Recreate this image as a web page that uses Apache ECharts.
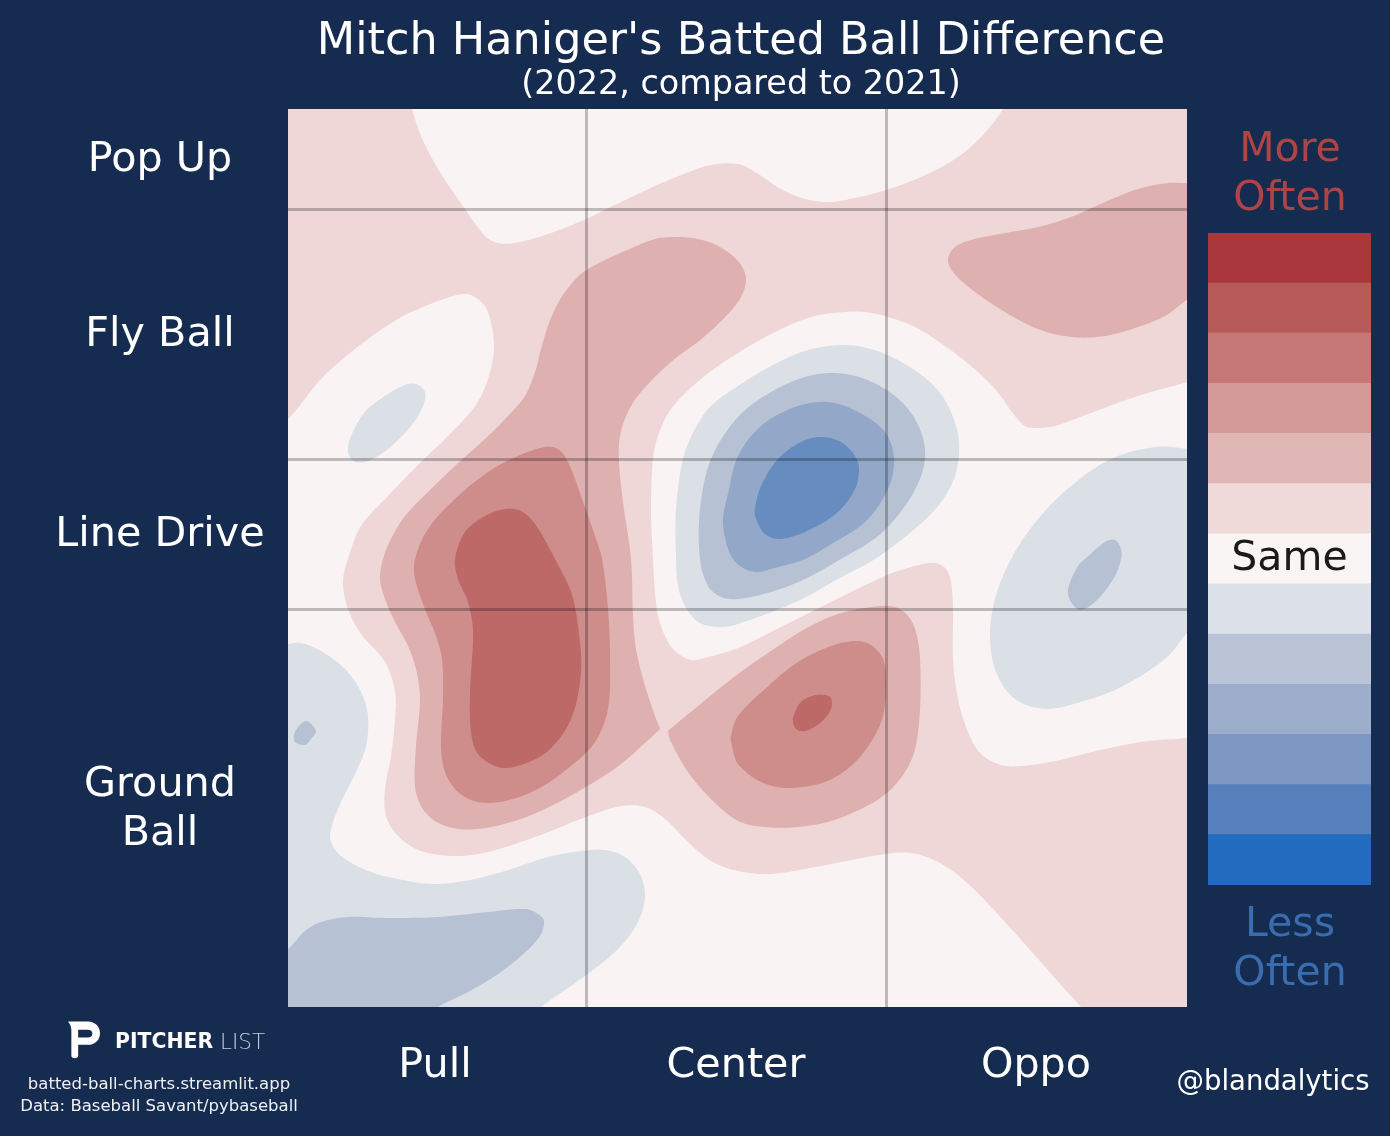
<!DOCTYPE html>
<html><head><meta charset="utf-8">
<style>html,body{margin:0;padding:0;background:#162b50}#c{width:1390px;height:1136px}</style>
<script src="https://cdn.jsdelivr.net/npm/echarts@6/dist/echarts.min.js"></script>
</head><body><div id="c"></div>
<script>
const xCategories=['Pull','Center','Oppo'];
const xCategoryCentres=[147,448,748];
const yCategories=['Pop Up','Fly Ball','Line Drive','Ground\nBall'];
const yCategoryCentres=[51,226,426,701];
const xDividers=[298,598];
const yDividers=[100,350,500];
const levelColors={same:'#f9f4f3',p1:'#eed7d6',p2:'#deb0b0',p3:'#ce8d8b',p4:'#bd6967',n1:'#dbdfe6',n2:'#b6c1d3',n3:'#93a7c8',n4:'#678cbf'};
const colorbarColors=['#a8363a','#b75b59','#c67876','#d39996','#e0b7b5','#efdad9','#f9f5f4','#dde1e9','#bac4d6','#9caecb','#7c97c1','#5580bb','#226bbf'];
const colorbarLabels=['','','','','','','Same','','','','','',''];

const sameTop=[[115,-30],[124,0],[133,27],[150,60],[177,100],[197,127],[210,134],[227,134],[260,125],[298,110],[333,93],[383,70],[423,56],[450,55],[467,63],[493,80],[517,90],[540,93],[567,89],[598,81],[633,68],[667,50],[693,28],[715,0],[730,-30],[420,-60]];
const sameCentre=[[930,265],[900,273],[850,287],[800,305],[767,317],[748,319],[737,317],[727,307],[707,280],[683,257],[657,237],[627,218],[600,208],[577,203],[557,203],[527,207],[493,220],[450,244],[413,270],[383,300],[370,327],[365,350],[363,400],[365,450],[367,483],[370,507],[377,527],[387,542],[403,551],[420,548],[450,539],[493,518],[543,493],[597,467],[627,457],[647,454],[658,460],[663,473],[665,500],[665,550],[670,590],[680,623],[693,645],[713,656],[733,657],[767,652],[817,640],[860,632],[900,629],[930,625]];
const sameLeft=[[-30,330],[0,310],[33,270],[67,240],[110,210],[150,192],[177,185],[190,190],[200,203],[206,237],[200,270],[187,297],[160,327],[133,353],[100,387],[73,417],[60,450],[55,473],[60,500],[73,525],[97,553],[107,583],[107,610],[103,647],[97,680],[98,707],[110,727],[133,742],[167,747],[200,743],[250,727],[298,708],[333,697],[357,698],[377,710],[400,733],[423,752],[450,762],[483,765],[533,757],[597,745],[623,744],[650,753],[677,772],[717,813],[793,898],[830,935],[400,960],[-30,930]];
const plus2Main=[[458,170],[450,152],[430,137],[410,130],[390,128],[367,130],[337,142],[313,153],[293,165],[277,183],[267,200],[260,217],[253,240],[247,263],[237,287],[220,307],[197,330],[167,357],[140,383],[117,407],[103,430],[95,450],[92,470],[97,490],[107,513],[120,537],[128,560],[132,590],[128,637],[127,677],[133,697],[147,712],[170,720],[197,719],[233,710],[267,695],[298,678],[333,655],[371,621],[372,620],[367,607],[357,577],[348,540],[345,507],[343,450],[335,393],[331,353],[332,327],[340,303],[353,283],[383,253],[417,227],[450,193]];
const plus2Lower=[[450,565],[483,542],[517,520],[550,505],[583,498],[607,498],[620,507],[628,523],[632,550],[632,600],[627,640],[617,663],[600,683],[577,698],[543,712],[510,718],[477,718],[450,712],[423,690],[400,663],[383,633],[380,622],[381,621],[410,597]];
const plus2Right=[[660,150],[667,138],[683,131],[717,124],[750,118],[783,108],[817,93],[850,80],[880,74],[900,74],[930,72],[930,170],[900,190],[877,207],[850,218],[817,227],[783,228],[750,220],[717,203],[683,180],[665,163]];
const plus3Main=[[127,450],[140,420],[167,390],[200,363],[230,347],[257,338],[270,340],[280,353],[293,387],[307,427],[314,450],[320,500],[322,550],[320,600],[307,633],[283,657],[250,680],[217,692],[190,693],[170,683],[157,663],[153,637],[155,590],[154,550],[148,527],[137,500],[127,470]];
const plus3Lower=[[450,607],[477,580],[510,553],[543,537],[567,532],[583,536],[595,550],[598,573],[595,607],[583,633],[563,657],[537,673],[500,679],[473,673],[450,655],[444,637],[443,627]];
const plus4Main=[[167,450],[177,423],[197,407],[217,400],[233,402],[247,415],[267,450],[283,483],[290,517],[293,563],[283,610],[260,642],[230,657],[210,658],[190,645],[183,623],[182,583],[185,523],[180,493],[170,470]];
const plus4Lower=[[505,610],[513,593],[528,586],[542,588],[543,600],[533,613],[518,622],[508,620]];
const minus1Centre=[[450,277],[483,257],[517,242],[553,236],[583,240],[617,255],[647,278],[663,303],[671,333],[667,367],[650,397],[623,423],[587,450],[550,470],[510,492],[450,515],[430,518],[410,513],[397,497],[390,477],[388,450],[388,400],[395,350],[407,320],[423,297]];
const minus2Centre=[[450,308],[483,283],[517,268],[547,264],[577,270],[607,287],[627,310],[637,340],[633,367],[617,397],[590,427],[553,450],[517,470],[483,483],[450,490],[433,488],[420,477],[412,450],[412,400],[423,350]];
const minus3Centre=[[450,347],[473,317],[507,298],[540,293],[570,303],[597,323],[606,350],[600,380],[577,413],[540,437],[517,450],[483,460],[470,463],[457,460],[445,450],[438,433],[435,410],[440,385]];
const minus4Centre=[[467,400],[473,377],[490,350],[513,333],[533,328],[553,333],[567,347],[571,360],[567,380],[550,403],[523,420],[493,430],[477,425],[468,410]];
const minus1UpperLeft=[[60,343],[63,327],[77,303],[97,287],[117,276],[128,275],[137,283],[135,297],[123,317],[100,340],[80,352],[67,353]];
const minus1Right=[[723,450],[750,410],[783,377],[823,350],[867,338],[900,340],[930,345],[930,495],[900,523],[877,550],[833,578],[793,593],[757,600],[727,590],[708,563],[702,527],[707,490]];
const minus2Right=[[797,450],[817,433],[827,431],[833,440],[833,450],[827,467],[810,490],[793,501],[783,493],[780,480],[790,457]];
const minus1Lower=[[-30,540],[0,535],[13,534],[33,542],[57,560],[73,583],[80,607],[78,637],[68,663],[53,693],[43,720],[43,733],[53,747],[80,762],[110,770],[143,775],[177,772],[217,762],[260,748],[293,742],[317,741],[337,748],[352,765],[357,787],[350,813],[330,840],[297,867],[253,898],[215,930],[-30,930]];
const minus2Lower=[[-30,860],[0,840],[17,822],[33,813],[60,808],[100,809],[150,808],[200,803],[237,800],[250,805],[256,812],[252,827],[233,847],[207,867],[180,883],[150,898],[110,925],[-30,925]];
const minus2Spot=[[7,623],[18,612],[28,622],[23,630],[17,636],[7,633]];

const contours=[
 ['same',sameTop],['same',sameCentre],['same',sameLeft],
 ['p2',plus2Main],['p2',plus2Lower],['p2',plus2Right],
 ['p3',plus3Main],['p3',plus3Lower],['p4',plus4Main],['p4',plus4Lower],
 ['n1',minus1Centre],['n2',minus2Centre],['n3',minus3Centre],['n4',minus4Centre],
 ['n1',minus1UpperLeft],['n1',minus1Right],['n2',minus2Right],
 ['n1',minus1Lower],['n2',minus2Lower],['n2',minus2Spot]
];
const FONT='"DejaVu Sans"';
const LOGO_PATH='M0.5 0 H20 C27 0 32 5 32 11.7 C32 18.5 27 23.3 20 23.3 H10.5 V34 Q10.5 36.7 7 36.7 Q3.8 36.7 3.8 34 V9 Q3.8 4 0.5 0 Z M10.5 8.3 V16 H20 C23 16 24.5 14.5 24.5 12 C24.5 9.7 23 8.3 20 8.3 Z';
// Draws a closed outline as a rounded curve through its pixel points (drawing only).
function roundOutline(pts){
  const n=pts.length,out=[],K=1/3,STEPS=10;
  const dist=(a,b)=>Math.hypot(a[0]-b[0],a[1]-b[1]);
  const handle=(i)=>{
    const p=pts[i],a=pts[(i+n-1)%n],b=pts[(i+1)%n],d0=dist(p,a),d1=dist(p,b),s=(d0+d1)||1;
    const vx=(b[0]-a[0])*K,vy=(b[1]-a[1])*K;
    return {inn:[p[0]-vx*d0/s,p[1]-vy*d0/s],out:[p[0]+vx*d1/s,p[1]+vy*d1/s]};
  };
  for(let i=0;i<n;i++){
    const p0=pts[i],p3=pts[(i+1)%n],c1=handle(i).out,c2=handle((i+1)%n).inn;
    for(let k=0;k<STEPS;k++){
      const t=k/STEPS,u=1-t;
      out.push([0,1].map(j=>u*u*u*p0[j]+3*u*u*t*c1[j]+3*u*t*t*c2[j]+t*t*t*p3[j]));
    }
  }
  return out;
}
const chart=echarts.init(document.getElementById('c'),null,{renderer:'canvas'});
const txt=(x,y,text,size,fill,extra)=>({type:'text',x,y,silent:true,z:50,style:Object.assign({text,fontFamily:FONT,fontSize:size,fill,align:'center',verticalAlign:'middle'},extra||{})});
chart.setOption({
 backgroundColor:'#162b50',animation:false,
 grid:[
  {left:288,top:109,width:899,height:898,show:true,backgroundColor:levelColors.p1,borderWidth:0},
  {left:1208,top:233,width:163,height:652,show:false}
 ],
 xAxis:[
  {type:'value',gridIndex:0,min:0,max:899,axisLine:{show:false},axisTick:{show:false},splitLine:{show:false},
   axisLabel:{customValues:xCategoryCentres,formatter:v=>xCategories[xCategoryCentres.indexOf(v)]||'',color:'#fff',fontFamily:FONT,fontSize:41.3,margin:39}},
  {type:'value',gridIndex:1,min:0,max:1,show:false}
 ],
 yAxis:[
  {type:'value',gridIndex:0,min:0,max:898,inverse:true,axisLine:{show:false},axisTick:{show:false},splitLine:{show:false},
   axisLabel:{customValues:yCategoryCentres,formatter:v=>yCategories[yCategoryCentres.indexOf(v)]||'',color:'#fff',fontFamily:FONT,fontSize:41.3,lineHeight:49,align:'center',margin:128}},
  {type:'category',gridIndex:1,inverse:true,data:colorbarColors.map((c,i)=>i),show:false}
 ],
 series:[
  {type:'custom',xAxisIndex:0,yAxisIndex:0,clip:true,silent:true,z:2,coordinateSystem:'cartesian2d',
   data:contours.map((c,i)=>[i]),
   encode:{x:0,y:0},
   renderItem:(p,api)=>{
     const [lvl,pts]=contours[api.value(0)];
     return {type:'polygon',shape:{points:roundOutline(pts.map(q=>api.coord(q)))},style:{fill:levelColors[lvl]}};
   },
   markLine:{silent:true,symbol:'none',animation:false,label:{show:false},z:10,
     lineStyle:{color:'rgba(0,0,0,0.24)',width:3,type:'solid'},
     data:[...xDividers.map(v=>({xAxis:v})),...yDividers.map(v=>({yAxis:v}))]}
  },
  {type:'bar',xAxisIndex:1,yAxisIndex:1,barWidth:'102%',silent:true,z:2,
   data:colorbarColors.map((c,i)=>({value:1,itemStyle:{color:c},label:{show:!!colorbarLabels[i],formatter:colorbarLabels[i]}})),
   label:{position:'inside',color:'#1a1a1a',fontFamily:FONT,fontSize:41}},
  {type:'custom',coordinateSystem:'none',silent:true,z:50,data:[[0]],
   renderItem:()=>({type:'path',shape:{pathData:LOGO_PATH,x:68,y:1021.5,width:32,height:36.7,layout:'cover'},style:{fill:'#fff',fillRule:'evenodd'}})}
 ],
 graphic:[
  txt(741,42,"Mitch Haniger's Batted Ball Difference",44.5,'#fff'),
  txt(741,85,'(2022, compared to 2021)',33.4,'#fff'),
  txt(1290,150,'More',41,'#ae4446'),
  txt(1290,199,'Often',41,'#ae4446'),
  txt(1290,925,'Less',41,'#3a6cb0'),
  txt(1290,974,'Often',41,'#3a6cb0'),
  txt(1273,1083,'@blandalytics',27.5,'#fff'),
  txt(159,1085,'batted-ball-charts.streamlit.app',16.5,'#f0f0f0'),
  txt(159,1107,'Data: Baseball Savant/pybaseball',16.5,'#f0f0f0'),
  {type:'text',x:115,y:1043,silent:true,z:50,style:{text:'PITCHER',fontFamily:FONT,fontWeight:700,fontSize:20.4,fill:'#fff',verticalAlign:'middle'}},
  {type:'text',x:220,y:1043,silent:true,z:50,style:{text:'LIST',fontFamily:FONT,fontWeight:200,fontSize:21.5,fill:'#c8ced8',verticalAlign:'middle'}}
 ]
});
</script></body></html>
